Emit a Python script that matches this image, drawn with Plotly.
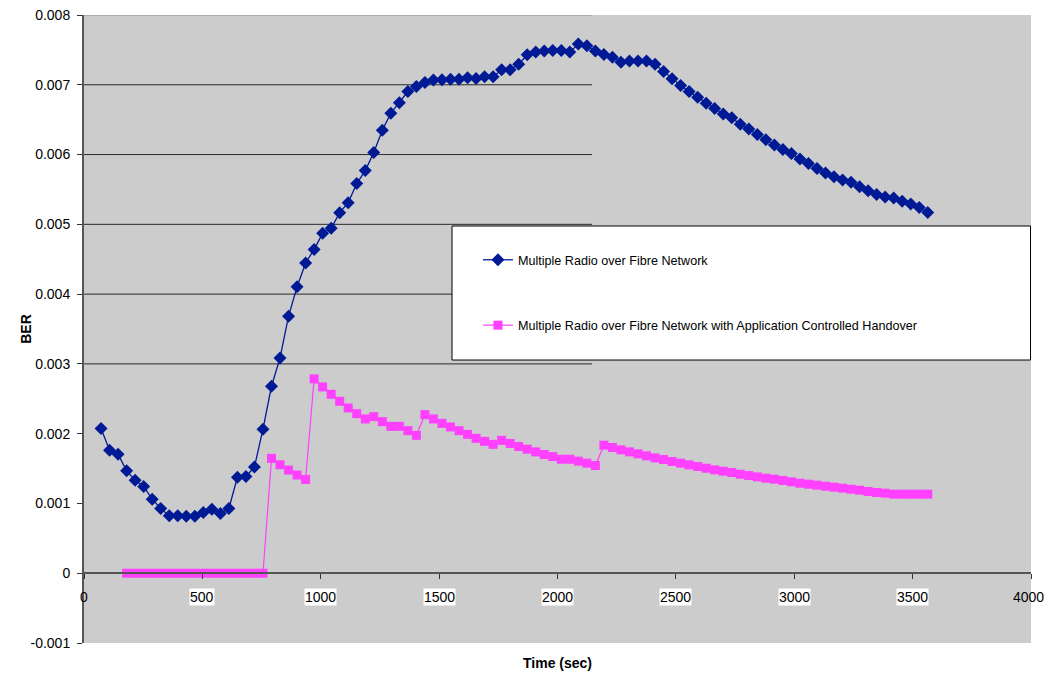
import plotly.graph_objects as go

# ---------------- data ----------------
time_blue = [72, 108, 144, 180, 216, 252, 288, 324, 360, 396, 432, 468, 504, 540, 576, 612,
             648, 684, 720, 756, 792, 828, 864, 900, 936, 972, 1008, 1044, 1080, 1116, 1152,
             1188, 1224, 1260, 1296, 1332, 1368, 1404, 1440, 1476, 1512, 1548, 1584, 1620,
             1656, 1692, 1728, 1764, 1800, 1836, 1872, 1908, 1944, 1980, 2016, 2052, 2088,
             2124, 2160, 2196, 2232, 2268, 2304, 2340, 2376, 2412, 2448, 2484, 2520, 2556,
             2592, 2628, 2664, 2700, 2736, 2772, 2808, 2844, 2880, 2916, 2952, 2988, 3024,
             3060, 3096, 3132, 3168, 3204, 3240, 3276, 3312, 3348, 3384, 3420, 3456, 3492,
             3528, 3564]
ber_blue = [0.002075, 0.001763, 0.001706, 0.001467, 0.001333, 0.001243, 0.001061, 0.000927,
            0.000822, 0.000822, 0.000815, 0.000815, 0.000870, 0.000918, 0.000856, 0.000927,
            0.001376, 0.001386, 0.001524, 0.002065, 0.002680, 0.003086, 0.003684, 0.004105,
            0.004445, 0.004641, 0.004871, 0.004943, 0.005167, 0.005311, 0.005584, 0.005770,
            0.006029, 0.006349, 0.006593, 0.006742, 0.006904, 0.006976, 0.007033, 0.007067,
            0.007072, 0.007081, 0.007081, 0.007100, 0.007091, 0.007115, 0.007115, 0.007215,
            0.007215, 0.007294, 0.007431, 0.007469, 0.007483, 0.007493, 0.007493, 0.007469,
            0.007583, 0.007559, 0.007483, 0.007435, 0.007393, 0.007322, 0.007341, 0.007341,
            0.007341, 0.007294, 0.007190, 0.007085, 0.006991, 0.006905, 0.006820, 0.006735,
            0.006659, 0.006583, 0.006526, 0.006436, 0.006365, 0.006289, 0.006213, 0.006137,
            0.006071, 0.006014, 0.005938, 0.005872, 0.005801, 0.005735, 0.005682, 0.005635,
            0.005602, 0.005540, 0.005483, 0.005427, 0.005393, 0.005379, 0.005330, 0.005290,
            0.005240, 0.005170]

time_pink = [180, 216, 252, 288, 324, 360, 396, 432, 468, 504, 540, 576, 612, 648, 684, 720,
             756, 792, 828, 864, 900, 936, 972, 1008, 1044, 1080, 1116, 1152, 1188, 1224,
             1260, 1296, 1332, 1368, 1404, 1440, 1476, 1512, 1548, 1584, 1620, 1656, 1692,
             1728, 1764, 1800, 1836, 1872, 1908, 1944, 1980, 2016, 2052, 2088, 2124, 2160,
             2196, 2232, 2268, 2304, 2340, 2376, 2412, 2448, 2484, 2520, 2556, 2592, 2628,
             2664, 2700, 2736, 2772, 2808, 2844, 2880, 2916, 2952, 2988, 3024, 3060, 3096,
             3132, 3168, 3204, 3240, 3276, 3312, 3348, 3384, 3420, 3456, 3492, 3528, 3564]
ber_pink = [0, 0, 0, 0, 0, 0, 0, 0, 0, 0, 0, 0, 0, 0, 0, 0, 0,
            0.001646, 0.001555, 0.001478, 0.001407, 0.001344, 0.002785, 0.002670, 0.002565,
            0.002464, 0.002368, 0.002287, 0.002211, 0.002244, 0.002172, 0.002105, 0.002105,
            0.002043, 0.001976, 0.002273, 0.002211, 0.002148, 0.002096, 0.002043, 0.001990,
            0.001933, 0.001890, 0.001847, 0.001904, 0.001860, 0.001816, 0.001778, 0.001739,
            0.001701, 0.001672, 0.001634, 0.001634, 0.001606, 0.001577, 0.001544, 0.001835,
            0.001802, 0.001768, 0.001739, 0.001711, 0.001682, 0.001653, 0.001630, 0.001601,
            0.001577, 0.001553, 0.001529, 0.001505, 0.001481, 0.001462, 0.001443, 0.001419,
            0.001400, 0.001381, 0.001362, 0.001348, 0.001329, 0.001310, 0.001290, 0.001276,
            0.001262, 0.001247, 0.001233, 0.001219, 0.001204, 0.001190, 0.001171, 0.001157,
            0.001147, 0.001133, 0.001133, 0.001133, 0.001133, 0.001133]

series_names = ["Multiple Radio over Fibre Network",
                "Multiple Radio over Fibre Network with Application Controlled Handover"]

x_ticks = [0, 500, 1000, 1500, 2000, 2500, 3000, 3500, 4000]
y_ticks = [-0.001, 0, 0.001, 0.002, 0.003, 0.004, 0.005, 0.006, 0.007, 0.008]
y_tick_text = ["-0.001", "0", "0.001", "0.002", "0.003", "0.004", "0.005", "0.006", "0.007", "0.008"]
grid_levels = [0.003, 0.004, 0.005, 0.006, 0.007]
grid_end = 2146

FONT = "Liberation Sans, Arial, sans-serif"
BLUE = "#001a96"
PINK = "#ff40ff"

fig = go.Figure()
fig.add_trace(go.Scatter(
    x=time_blue, y=ber_blue, name=series_names[0], mode="lines+markers",
    line=dict(color=BLUE, width=1.3),
    marker=dict(symbol="diamond", size=10, color=BLUE),
    legendgroup="a"))
fig.add_trace(go.Scatter(
    x=time_pink, y=ber_pink, name=series_names[1], mode="lines+markers",
    line=dict(color=PINK, width=1.2),
    marker=dict(symbol="square", size=9, color=PINK),
    legendgroup="b"))

shapes = []
for g in grid_levels:
    shapes.append(dict(type="line", xref="x", yref="y", x0=0, x1=grid_end, y0=g, y1=g,
                       line=dict(color="#2a2a2a", width=1), layer="below"))
shapes.append(dict(type="line", xref="x", yref="y", x0=0, x1=grid_end, y0=0.008, y1=0.008,
                   line=dict(color="#8a8a8a", width=1), layer="below"))
# legend box
shapes.append(dict(type="rect", xref="paper", yref="paper", x0=0.3886, x1=0.9995,
                   y0=0.4506, y1=0.664, fillcolor="white",
                   line=dict(color="black", width=1), layer="above"))

annotations = []
for t in x_ticks:
    annotations.append(dict(
        x=t, y=0, xref="x", yref="y", text=str(t), showarrow=False,
        yanchor="middle", yshift=-24, xshift=-3 if t == 4000 else 0,
        bgcolor="white" if 0 < t < 4000 else "rgba(0,0,0,0)", borderpad=0,
        font=dict(family=FONT, size=14, color="black")))
annotations.append(dict(x=-0.072, y=0.5, xref="paper", yref="paper", text="<b>BER</b>",
                        showarrow=False, textangle=-90,
                        font=dict(family=FONT, size=14, color="black")))
annotations.append(dict(x=0.5, y=-0.016, xref="paper", yref="paper", text="<b>Time (sec)</b>",
                        showarrow=False, yanchor="top",
                        font=dict(family=FONT, size=14, color="black")))

# page body has an 8px default margin, so the figure is sized to fit inside the window
fig.update_layout(
    width=1037, height=666,
    margin=dict(l=76, r=14, t=7, b=31, autoexpand=False),
    paper_bgcolor="white", plot_bgcolor="#cccccc",
    font=dict(family=FONT, size=14, color="black"),
    showlegend=True,
    legend=dict(x=0.416, y=0.6336, xanchor="left", yanchor="top",
                bgcolor="rgba(0,0,0,0)", borderwidth=0,
                font=dict(family=FONT, size=12.6, color="black"),
                tracegroupgap=46, itemwidth=30),
    shapes=shapes, annotations=annotations,
    xaxis=dict(range=[0, 4000], tickvals=x_ticks, showticklabels=False,
               showgrid=False, zeroline=False, showline=True, linecolor="#555555",
               linewidth=1.5, ticks="outside", ticklen=5, tickcolor="#333333",
               anchor="free", position=0.1111, fixedrange=True, automargin=False),
    yaxis=dict(range=[-0.001, 0.0080001], tickvals=y_ticks, ticktext=y_tick_text,
               showgrid=False, zeroline=False, showline=True, linecolor="#555555",
               linewidth=2, ticks="outside", ticklen=5, tickcolor="#333333",
               ticklabelstandoff=4, ticklabeloverflow="allow", automargin=False,
               tickfont=dict(family=FONT, size=14, color="black")),
)

fig.write_html("out.html")
